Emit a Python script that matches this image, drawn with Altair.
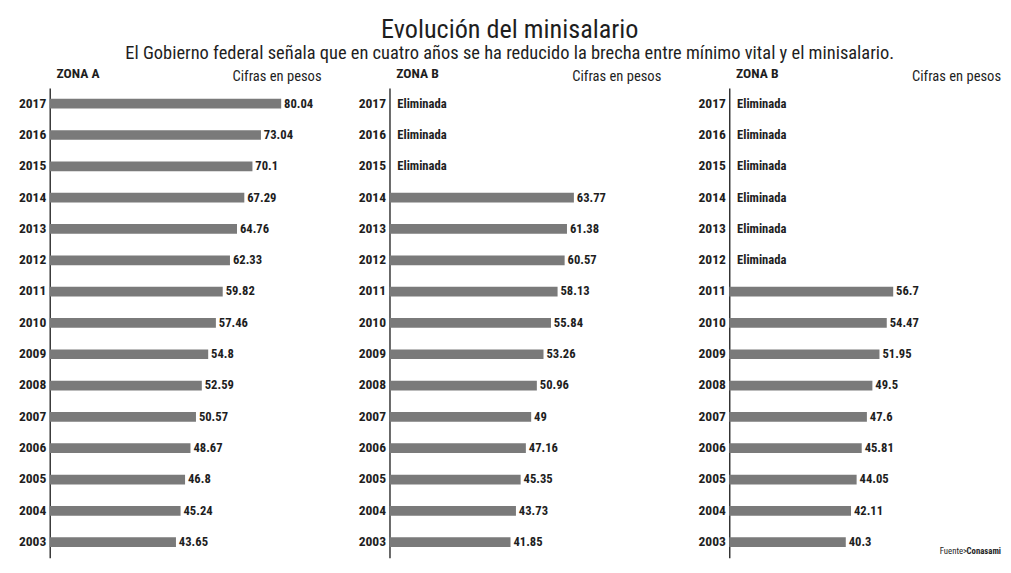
import altair as alt
import pandas as pd

years = [2017, 2016, 2015, 2014, 2013, 2012, 2011, 2010, 2009, 2008, 2007, 2006, 2005, 2004, 2003]
zona_a = [80.04, 73.04, 70.1, 67.29, 64.76, 62.33, 59.82, 57.46, 54.8, 52.59, 50.57, 48.67, 46.8, 45.24, 43.65]
zona_b = [None, None, None, 63.77, 61.38, 60.57, 58.13, 55.84, 53.26, 50.96, 49, 47.16, 45.35, 43.73, 41.85]
zona_c = [None, None, None, None, None, None, 56.7, 54.47, 51.95, 49.5, 47.6, 45.81, 44.05, 42.11, 40.3]
panel_titles = ["ZONA A", "ZONA B", "ZONA B"]
unit_note = "Cifras en pesos"
eliminated_text = "Eliminada"
title_text = "Evolución del minisalario"
subtitle_text = "El Gobierno federal señala que en cuatro años se ha reducido la brecha entre mínimo vital y el minisalario."
source_prefix = "Fuente>"
source_name = "Conasami"

W = 280
H = 484
FONT = "Liberation Sans Narrow, Roboto Condensed, Roboto, sans-serif"
BAR_COLOR = "#7a7a7a"
TEXT_COLOR = "#1e1e1e"


def make_panel(name, values, with_source=False):
    rows = []
    for y, v in zip(years, values):
        rows.append({
            "year": str(y),
            "value": v,
            "label": (f"{v:g}" if v is not None else eliminated_text),
        })
    df = pd.DataFrame(rows)
    ysort = [str(y) for y in years]
    yenc = alt.Y(
        "year:N",
        sort=ysort,
        title=None,
        scale=alt.Scale(paddingInner=0.0, paddingOuter=0.0),
        axis=alt.Axis(
            ticks=False,
            domain=True,
            domainColor="#333333",
            domainWidth=1.5,
            labelFont=FONT,
            labelFontSize=14,
            labelFontWeight="bold",
            labelColor=TEXT_COLOR,
            labelPadding=4,
        ),
    )
    xscale = alt.Scale(domain=[0, 94], nice=False, zero=True)
    base = alt.Chart(df)
    bars = base.mark_bar(size=10, color=BAR_COLOR).encode(
        x=alt.X("value:Q", scale=xscale, axis=None),
        y=yenc,
    ).transform_filter("datum.value != null")
    vals = base.mark_text(
        align="left", baseline="middle", dx=3, font=FONT, fontSize=13,
        fontWeight="bold", color=TEXT_COLOR
    ).encode(
        x=alt.X("value:Q", scale=xscale, axis=None),
        y=yenc,
        text="label:N",
    ).transform_filter("datum.value != null")
    elim = base.mark_text(
        align="left", baseline="middle", font=FONT, fontSize=13,
        fontWeight="bold", color=TEXT_COLOR
    ).encode(
        x=alt.value(8),
        y=yenc,
        text="label:N",
    ).transform_filter("datum.value == null")
    head = alt.Chart(pd.DataFrame({"t": [name], "n": [unit_note]}))
    zone = head.mark_text(
        align="left", baseline="bottom", font=FONT, fontSize=14,
        fontWeight="bold", color=TEXT_COLOR
    ).encode(x=alt.value(7), y=alt.value(-7), text="t:N")
    note = head.mark_text(
        align="right", baseline="bottom", font=FONT, fontSize=15, color=TEXT_COLOR
    ).encode(x=alt.value(W), y=alt.value(-4), text="n:N")
    layers = [bars, vals, elim, zone, note]
    if with_source:
        src = alt.Chart(pd.DataFrame({"a": [source_prefix], "b": [source_name]}))
        s1 = src.mark_text(align="right", baseline="bottom", font=FONT, fontSize=9,
                           color=TEXT_COLOR, dx=-35).encode(
            x=alt.value(W), y=alt.value(H - 2), text="a:N")
        s2 = src.mark_text(align="right", baseline="bottom", font=FONT, fontSize=9,
                           fontWeight="bold", color=TEXT_COLOR).encode(
            x=alt.value(W), y=alt.value(H - 2), text="b:N")
        layers += [s1, s2]
    return alt.layer(*layers).properties(width=W, height=H)


chart = alt.hconcat(
    make_panel(panel_titles[0], zona_a),
    make_panel(panel_titles[1], zona_b),
    make_panel(panel_titles[2], zona_c, with_source=True),
    spacing=37,
).properties(
    title=alt.TitleParams(
        title_text,
        subtitle=subtitle_text,
        anchor="middle",
        font=FONT,
        fontSize=27,
        fontWeight="normal",
        color=TEXT_COLOR,
        subtitleFont=FONT,
        subtitleFontSize=19,
        subtitleColor=TEXT_COLOR,
        subtitlePadding=1,
        offset=4,
    ),
    padding={"left": 10, "top": 0, "right": 2, "bottom": 0},
).configure_view(stroke=None)

chart.save("out.html", embed_options={"renderer": "svg", "actions": False})
